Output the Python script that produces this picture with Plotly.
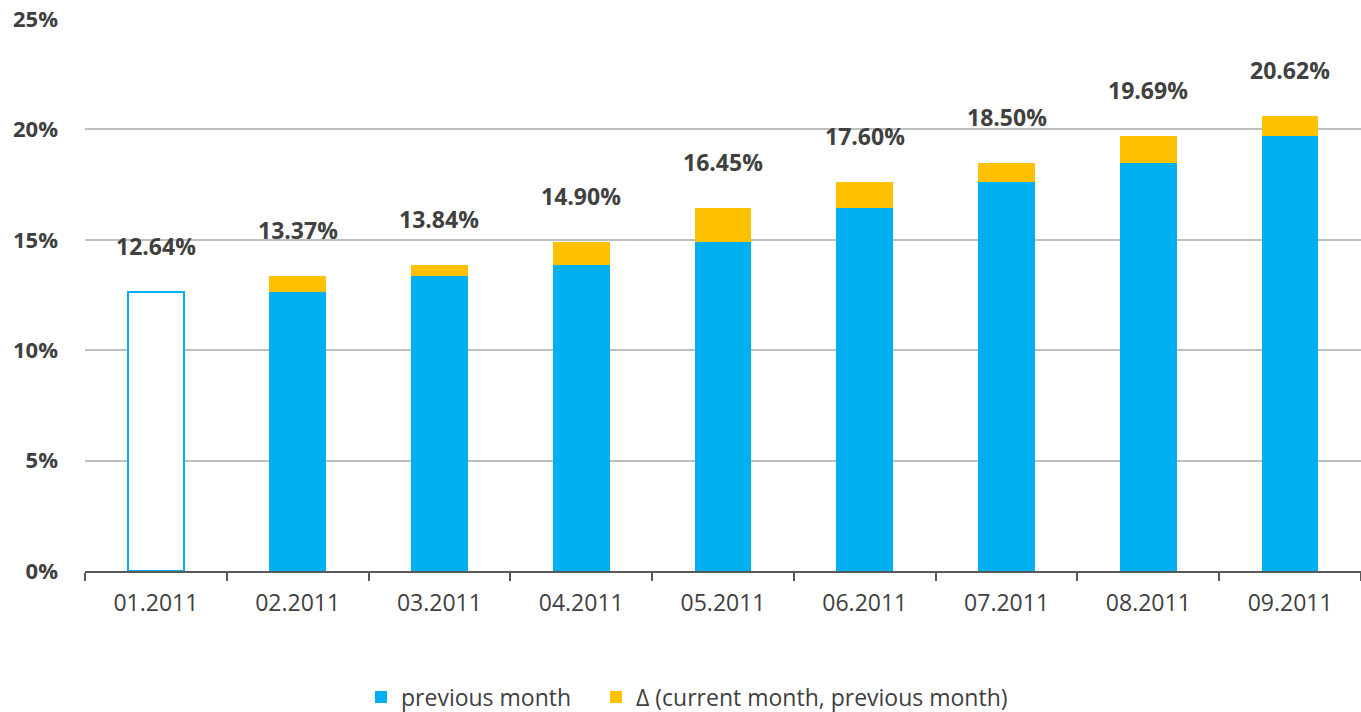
import plotly.graph_objects as go

months = ["01.2011", "02.2011", "03.2011", "04.2011", "05.2011",
          "06.2011", "07.2011", "08.2011", "09.2011"]
current = [12.64, 13.37, 13.84, 14.90, 16.45, 17.60, 18.50, 19.69, 20.62]
previous = [None, 12.64, 13.37, 13.84, 14.90, 16.45, 17.60, 18.50, 19.69]
baseline = [12.64, None, None, None, None, None, None, None, None]
delta = [None] + [round(c - p, 2) for c, p in zip(current[1:], previous[1:])]
labels = [f"{v:.2f}%" for v in current]

BLUE = "#00B0F0"
GOLD = "#FFC000"
TXT = "#404040"

fig = go.Figure()
fig.add_trace(go.Bar(
    x=months, y=baseline, name="baseline", showlegend=False,
    marker=dict(color="white", line=dict(color=BLUE, width=2)),
    width=0.4,
))
fig.add_trace(go.Bar(
    x=months, y=previous, name="previous month",
    marker=dict(color=BLUE, line=dict(width=0)),
    width=0.4, legend="legend",
))
fig.add_trace(go.Bar(
    x=months, y=delta, name="Δ (current month, previous month)",
    marker=dict(color=GOLD, line=dict(width=0)),
    width=0.4, legend="legend2",
))

for i, (v, t) in enumerate(zip(current, labels)):
    fig.add_annotation(x=i, y=v, text=f"<b>{t}</b>", showarrow=False,
                       yanchor="bottom", yshift=28,
                       font=dict(family="Open Sans", size=23, color=TXT))

W, H = 1361, 712
leg_common = dict(orientation="h", xref="container", xanchor="left",
                  yref="container", y=1 - 697 / H, yanchor="middle",
                  font=dict(size=23, color=TXT), bgcolor="rgba(0,0,0,0)")

fig.update_layout(
    barmode="stack",
    width=W, height=H,
    margin=dict(l=85, r=0, t=19, b=141, autoexpand=False),
    paper_bgcolor="white", plot_bgcolor="white",
    font=dict(family="Open Sans", color=TXT),
    showlegend=True,
    legend=dict(x=361 / W, **leg_common),
    legend2=dict(x=596 / W, **leg_common),
    xaxis=dict(showgrid=False, showline=True, linecolor="#595959", linewidth=1.5,
               ticks="outside", tickson="boundaries", ticklen=8,
               tickcolor="#595959", tickwidth=1.5,
               tickfont=dict(size=23, color=TXT), ticklabelstandoff=11),
    yaxis=dict(range=[0, 25], dtick=5, ticksuffix="%", showgrid=True,
               gridcolor="#BFBFBF", gridwidth=1.5, zeroline=False,
               showline=False, tickfont=dict(size=22, color=TXT, weight="bold"),
               ticklabelstandoff=26, ticklabeloverflow="allow"),
)

fig.write_html("out.html", config={"displayModeBar": False},
               post_script="document.body.style.margin='0';document.body.style.overflow='hidden';")
